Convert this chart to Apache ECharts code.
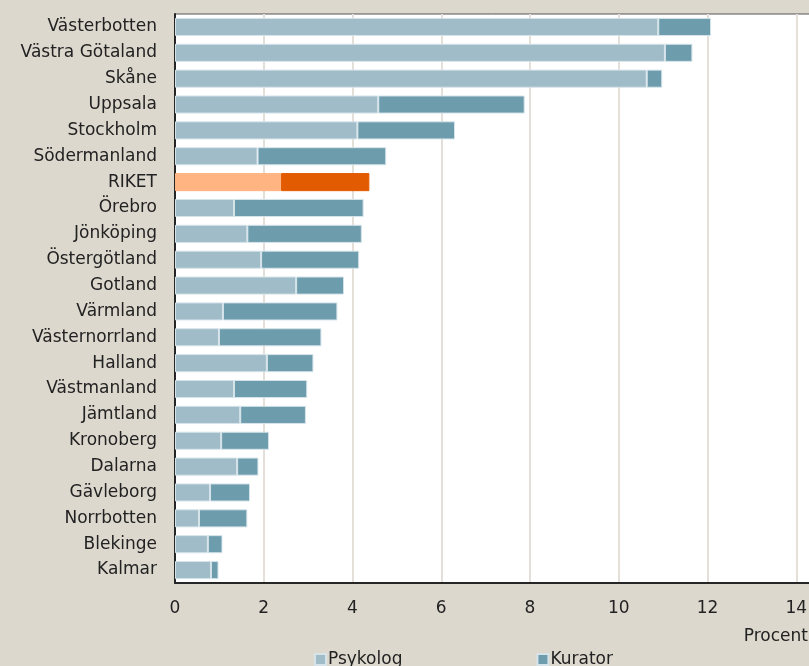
<!DOCTYPE html>
<html>
<head>
<meta charset="utf-8">
<script src="https://cdn.jsdelivr.net/npm/echarts@6/dist/echarts.min.js"></script>
<style>
  html, body { margin: 0; padding: 0; background: #ddd8ce; }
  #container { width: 809px; height: 666px; }
</style>
</head>
<body>
<div id="container"></div>
<script>
var regions = ['Västerbotten', 'Västra Götaland', 'Skåne', 'Uppsala', 'Stockholm', 'Södermanland',
    'RIKET', 'Örebro', 'Jönköping', 'Östergötland', 'Gotland', 'Värmland', 'Västernorrland',
    'Halland', 'Västmanland', 'Jämtland', 'Kronoberg', 'Dalarna', 'Gävleborg', 'Norrbotten',
    'Blekinge', 'Kalmar'];
var psykolog = [10.89, 11.04, 10.63, 4.58, 4.11, 1.86, 2.39, 1.33, 1.63, 1.94, 2.73, 1.08, 0.99,
    2.07, 1.33, 1.47, 1.04, 1.40, 0.79, 0.54, 0.74, 0.81];
var kurator = [1.19, 0.62, 0.35, 3.30, 2.20, 2.90, 1.99, 2.92, 2.58, 2.21, 1.08, 2.58, 2.31,
    1.05, 1.65, 1.48, 1.08, 0.48, 0.90, 1.09, 0.33, 0.17];
var xTicks = [0, 2, 4, 6, 8, 10, 12, 14];

var font = 'DejaVu Sans';
var highlight = 'RIKET';

function toData(values, normal, special) {
    return values.map(function (v, i) {
        if (regions[i] === highlight) {
            return { value: v, itemStyle: { color: special, borderColor: special } };
        }
        return { value: v, itemStyle: { color: normal } };
    });
}

var dom = document.getElementById('container');
var myChart = echarts.init(dom);

var option = {
    backgroundColor: '#ddd8ce',
    animation: false,
    textStyle: { fontFamily: font },
    grid: {
        left: 175,
        top: 14,
        bottom: 83,
        right: -5,
        outerBoundsMode: 'none',
        containLabel: false,
        show: true,
        backgroundColor: '#ffffff',
        borderColor: '#555555',
        borderWidth: 1
    },
    legend: {
        left: 309,
        top: 646,
        itemWidth: 11,
        itemHeight: 11,
        itemGap: 134,
        icon: 'rect',
        textStyle: { fontFamily: font, fontSize: 17, color: '#222222', padding: [0, 0, 0, -3] },
        data: ['Psykolog', 'Kurator']
    },
    xAxis: {
        type: 'value',
        min: 0,
        max: 14.4,
        interval: 2,
        axisLine: { show: true, lineStyle: { color: '#262626', width: 2 } },
        axisTick: { show: false },
        axisLabel: {
            margin: 17,
            fontSize: 17,
            color: '#222222',
            fontFamily: font,
            formatter: function (v) {
                return xTicks.indexOf(v) >= 0 ? String(v) : '';
            }
        },
        splitLine: { show: true, lineStyle: { color: '#e4dfd8', width: 2 } }
    },
    yAxis: {
        type: 'category',
        inverse: true,
        data: regions,
        axisLine: { show: true, lineStyle: { color: '#262626', width: 2 } },
        axisTick: { show: false },
        axisLabel: { margin: 18, fontSize: 17, color: '#222222', fontFamily: font }
    },
    graphic: [{
        type: 'text',
        right: 1,
        top: 628,
        style: { text: 'Procent', font: '17px "DejaVu Sans"', fill: '#222222' }
    }],
    series: [
        {
            name: 'Psykolog',
            type: 'bar',
            stack: 'total',
            barCategoryGap: '30%',
            color: '#a0bcc8',
            itemStyle: { borderColor: '#d6e4ea', borderWidth: 1 },
            data: toData(psykolog, '#a0bcc8', '#ffb482')
        },
        {
            name: 'Kurator',
            type: 'bar',
            stack: 'total',
            barCategoryGap: '30%',
            color: '#6d9cad',
            itemStyle: { borderColor: '#d6e4ea', borderWidth: 1 },
            data: toData(kurator, '#6d9cad', '#e35b00')
        }
    ]
};

myChart.setOption(option, true);
</script>
</body>
</html>
